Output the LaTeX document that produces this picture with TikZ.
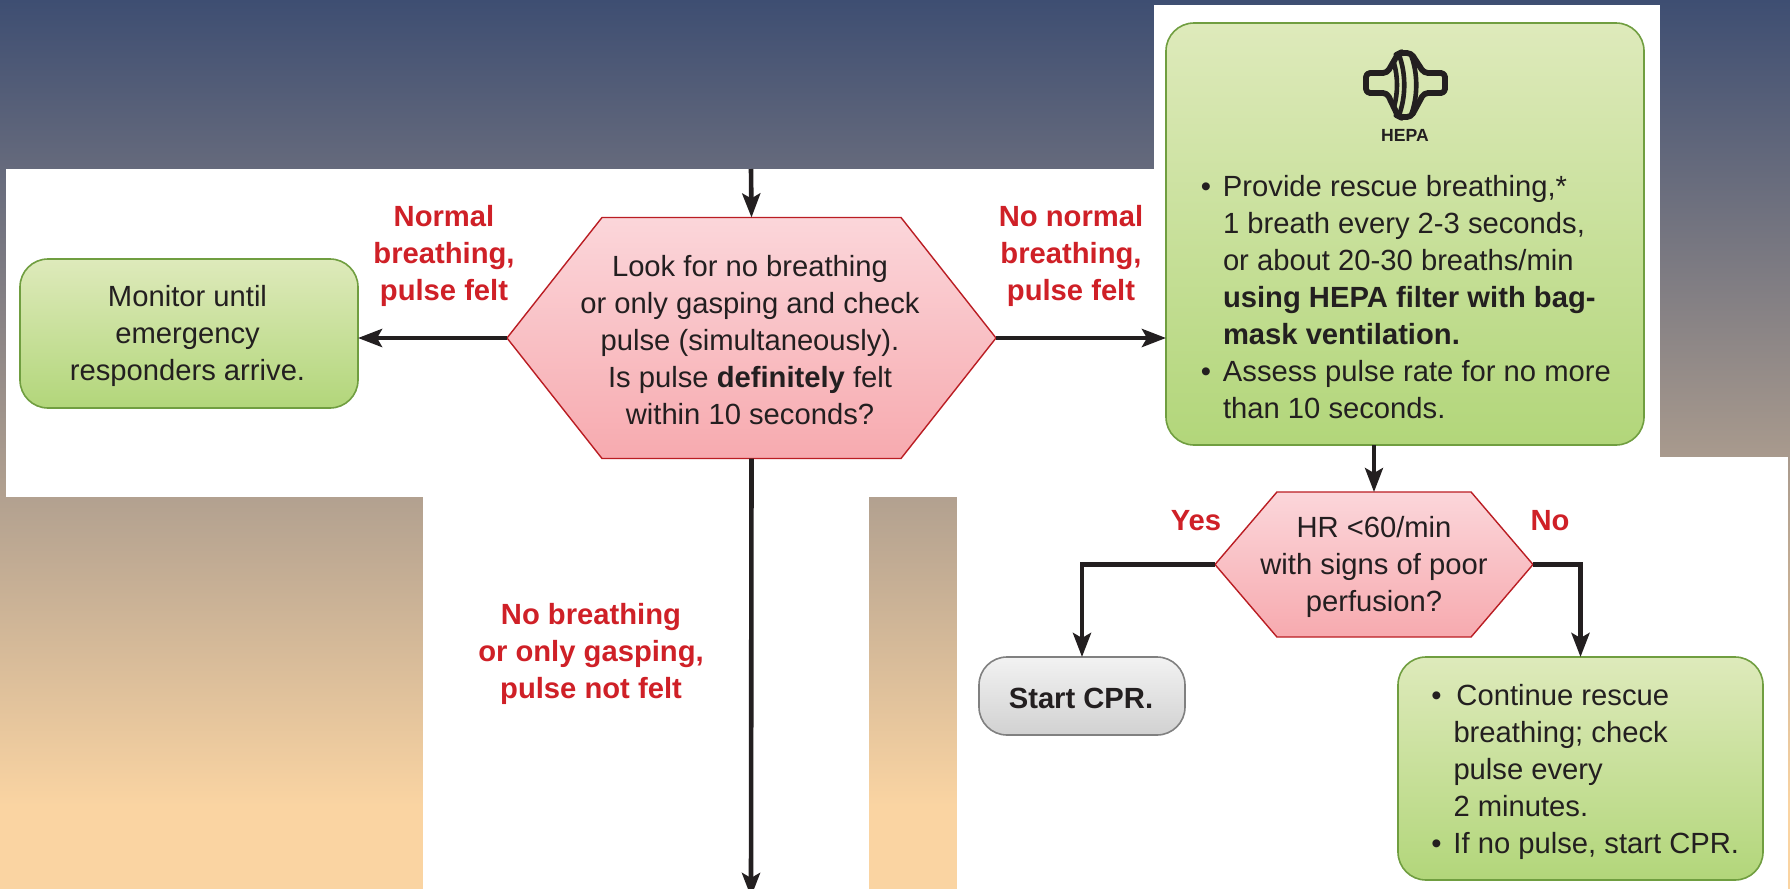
\documentclass[tikz,border=0pt]{standalone}
\usepackage{fontspec}
\setmainfont{Liberation Sans}
\usetikzlibrary{arrows.meta,shapes.symbols}
\definecolor{navy}{RGB}{62,78,114}
\definecolor{peach}{RGB}{250,212,162}
\definecolor{ink}{RGB}{35,31,32}
\definecolor{alert}{RGB}{207,32,39}
\definecolor{green1}{RGB}{222,234,187}
\definecolor{green2}{RGB}{212,229,166}
\definecolor{green3}{RGB}{178,214,122}
\definecolor{greenline}{RGB}{112,158,64}
\definecolor{pink1}{RGB}{251,214,218}
\definecolor{pink2}{RGB}{247,170,175}
\pgfdeclareverticalshading{dusk}{100bp}{color(0bp)=(peach); color(29.7bp)=(peach); color(75bp)=(navy); color(100bp)=(navy)}
\tikzset{
  hepa filter/.pic={
    \draw [line width=2.9pt, rounded corners=2pt, line join=round, ink]
    (-18,-12) -- (-39,-12) -- (-39,8) -- (-18,8) -- (-7,31) -- (-5,32) -- (6,32) -- (19,8)
    -- (40,8) -- (40,-12) -- (19,-12) -- (6,-32) -- (-5,-32) -- (-7,-31) -- cycle;
    \draw [line width=2.3pt, ink] (-6,-30) .. controls (1,-12) and (1,12) .. (-6,30)
    (6,-30) .. controls (13,-12) and (13,12) .. (6,30)
    (-11,-22) .. controls (-7,-8) and (-7,8) .. (-11,22);
  }
}
\begin{document}
\begin{tikzpicture}[x=.5pt, y=-.5pt, inner sep=0pt, outer sep=0pt, >=Stealth,
   body/.style={text=ink, align=center, font=\fontsize{14.6}{18.5}\selectfont},
   answer/.style={text=alert, align=center, font=\fontsize{14.6}{18.5}\selectfont\bfseries},
   greenbox/.style={draw=greenline, line width=.8pt, rounded corners=14pt, top color=green1, middle color=green2, bottom color=green3},
   greybox/.style={draw=black!50, line width=.8pt, rounded corners=14pt, top color=black!5, bottom color=black!18},
   hexbox/.style={signal, signal to=west and east, draw=alert!90!black, line width=.7pt, top color=pink1, bottom color=pink2},
   flow/.style={draw=ink, line width=2.3pt, -{Stealth[length=12pt,width=9pt,inset=2.5pt]}}
   ]
   \useasboundingbox (0,0) rectangle (1790,889);
   \shade [shading=dusk] (0,0) rectangle (1790,889);
   \fill [white] (6,169) rectangle (1154,497);
   \fill [white] (1154,5) rectangle (1660,497);
   \fill [white] (423,497) rectangle (869,889);
   \fill [white] (957,457) rectangle (1788,889);

   \coordinate (In) at (751,169);
   \coordinate (Out) at (751,897);

   \node [hexbox, signal pointer angle=103.5, minimum width=244.5pt, minimum height=120.5pt] (Look) at (751.5,338) {};
   \node [greenbox, minimum width=169pt, minimum height=74.5pt] (Monitor) at (189,333.5) {};
   \node [greenbox, minimum width=239pt, minimum height=211pt] (Rescue) at (1405,234) {};
   \node [hexbox, signal pointer angle=99, minimum width=159pt, minimum height=72.5pt] (Rate) at (1374,564.5) {};
   \node [greybox, minimum width=103pt, minimum height=39pt] (Cpr) at (1082,696) {};
   \node [greenbox, minimum width=182.5pt, minimum height=111.5pt] (Continue) at (1580.5,768.5) {};

   \node [body] (LookText) at (750,340.5) {Look for no breathing\\or only gasping and check\\pulse (simultaneously).\\Is pulse \textbf{definitely} felt\\within 10 seconds?};
   \node [body] (MonitorText) at (187.5,336) {Monitor until\\emergency\\responders arrive.};
   \node [body] (RateText) at (1374,567) {HR <60/min\\with signs of poor\\perfusion?};
   \node [body, font=\fontsize{14.6}{18.5}\selectfont\bfseries] (CprText) at (1081,698) {Start CPR.};

   \pic at (1405,85) {hepa filter};
   \node [text=ink, font=\fontsize{8.8}{10}\selectfont\bfseries] (Hepa) at (1405,135) {HEPA};
   \node [body, anchor=west, align=left] (RescueList) at (1223,297) {\llap{\textbullet\hspace{6pt}}Provide rescue breathing,*\\1 breath every 2-3 seconds,\\or about 20-30 breaths/min\\\textbf{using HEPA filter with bag-}\\\textbf{mask ventilation.}\\\llap{\textbullet\hspace{6pt}}Assess pulse rate for no more\\than 10 seconds.};
   \node [body, anchor=west, align=left] (ContinueList) at (1453.5,771.5) {\llap{\textbullet\hspace{6pt}}\hspace{1.5pt}Continue rescue\\breathing; check\\pulse every\\2 minutes.\\\llap{\textbullet\hspace{6pt}}If no pulse, start CPR.};

   \node [answer] (Normal) at (444,255.5) {Normal\\breathing,\\pulse felt};
   \node [answer] (NoNormal) at (1071,255.5) {No normal\\breathing,\\pulse felt};
   \node [answer] (NoBreath) at (591,654) {No breathing\\or only gasping,\\pulse not felt};
   \node [answer] (Yes) at (1196,521) {Yes};
   \node [answer] (No) at (1550,521) {No};

   \draw [flow] (In) -- (Look.north);
   \draw [flow] (Look.south) -- (Out);
   \draw [flow] (Look.west) -- (Look.west -| Monitor.east);
   \draw [flow] (Look.east) -- (Look.east -| Rescue.west);
   \draw [flow, line width=2pt] (Rescue.south -| Rate.north) -- (Rate.north);
   \draw [flow] (Rate.west) -| (Cpr.north);
   \draw [flow] (Rate.east) -| (Continue.north);
\end{tikzpicture}
\end{document}
